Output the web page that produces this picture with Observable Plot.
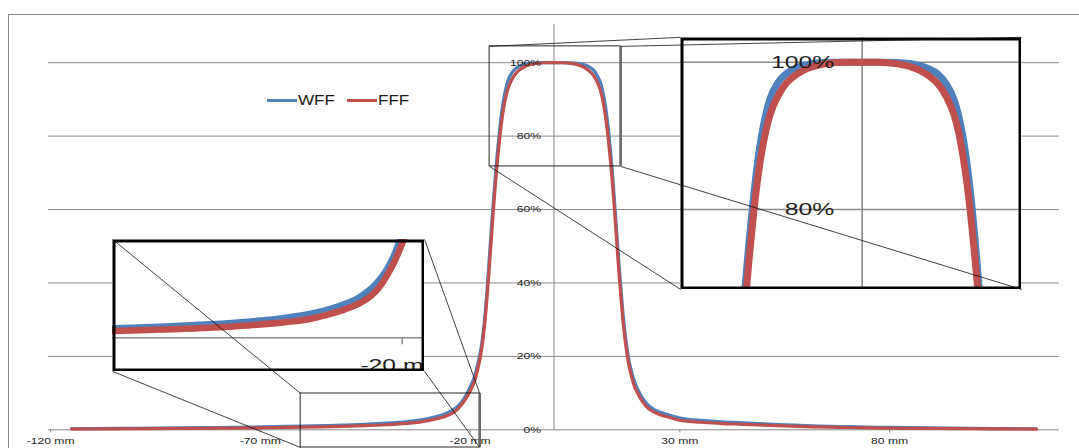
<!DOCTYPE html>
<html>
<head>
<meta charset="utf-8">
<script src="https://cdn.jsdelivr.net/npm/d3@7"></script>
<script src="https://cdn.jsdelivr.net/npm/@observablehq/plot@0.6"></script>
<style>
html,body{margin:0;padding:0;background:#fff;}
#chart{position:relative;width:1079px;height:448px;overflow:hidden;background:#fff;font-family:"Liberation Sans",Arial,sans-serif;}
#chart svg{position:absolute;}
.frame-border{position:absolute;left:8px;top:14px;width:1100px;height:460px;border-top:1px solid #8a8a8a;border-left:1px solid #8a8a8a;}
.lg{position:absolute;display:flex;align-items:center;height:16px;}
.lg .sw{display:inline-block;width:30px;height:0;border-top:3px solid;}
.lg .tx{display:inline-block;font-size:14px;line-height:16px;color:#1a1a1a;transform:scaleX(1.22);transform-origin:left center;margin-left:1px;}
</style>
</head>
<body>
<div id="chart"><div class="frame-border"></div></div>
<script>
// ---------- data ----------
const positionsMm = [-115,-110,-100,-90,-80,-70,-60,-55,-50,-45,-40,-35,-32,-30,-28,-26,-25,-24,-23,-22,-21,-20,-19,-18.5,-18,-17.5,-17,-16.5,-16,-15.5,-15,-14.5,-14,-13.5,-13,-12.5,-12,-11.5,-11,-10,-9,-8,-7,-6,-5,-4,-2,0,2,4,5,6,7,8,9,10,11,11.5,12,12.5,13,13.5,14,14.5,15,15.5,16,16.5,17,17.5,18,18.5,19,20,21,22,23,24,25,26,28,30,32,35,40,45,50,55,60,70,80,90,100,110,115];
const fffPct = [0.2,0.22,0.28,0.35,0.43,0.55,0.72,0.82,0.95,1.12,1.38,1.75,2.1,2.5,3.0,3.65,4.1,4.7,5.6,6.9,8.5,10.5,13.0,15.0,17.4,20.2,24.0,29.0,35.5,43,51,59,66.5,73,78.8,83.8,87.6,90.6,92.8,95.5,97.2,98.2,98.9,99.35,99.65,99.85,99.98,100,99.98,99.8,99.6,99.3,98.8,98.1,97.1,95.4,92.7,90.5,87.4,83.5,78.6,72.8,66.2,58.5,50.5,42.5,35.5,29,24,20,16.8,14.4,12.4,9.8,7.8,6.4,5.4,4.75,4.25,3.85,3.2,2.6,2.3,2.05,1.7,1.5,1.25,1.05,0.85,0.62,0.45,0.35,0.28,0.22,0.2];
const wffPct = [0.3,0.33,0.42,0.52,0.63,0.78,1.0,1.12,1.28,1.5,1.8,2.25,2.65,3.05,3.6,4.3,4.85,5.5,6.4,7.6,9.3,11.6,14.3,16.4,18.7,21.5,25.4,30.6,37.5,45.5,53.5,61.5,69,75.5,81.2,86.2,90,92.9,95,97.3,98.5,99.2,99.55,99.8,99.92,99.98,100,100,100,99.95,99.88,99.75,99.5,99.1,98.4,97.1,94.8,92.8,90,86.3,81.5,75.5,68.8,61,53,45,37.8,31,25.8,21.5,18.2,15.8,13.8,10.9,8.8,7.3,6.2,5.45,4.95,4.55,3.8,3.2,2.85,2.55,2.15,1.9,1.6,1.35,1.12,0.85,0.65,0.5,0.38,0.3,0.27];
const seriesNames = ["WFF", "FFF"];
const xTickValues = [-120, -70, -20, 30, 80];
const yTickValues = [0, 20, 40, 60, 80, 100];
const peakInsetTicks = [80, 100];
const tailInsetTicks = [-20];

// ---------- styles & layout (kept apart from the data) ----------
const colors = {WFF: "#4F81BD", FFF: "#C0504D"};
const gridColor = "#8c8c8c";
const textColor = "#1e1e1e";
const font = '"Liberation Sans", Arial, sans-serif';
const W = 1079, H = 448;
const mainScales = {
  width: W, height: H, marginLeft: 48, marginRight: 20, marginTop: 24, marginBottom: 18.7,
  x: {domain: [-120.5, 120.5], axis: null}, y: {domain: [0, 110.4], axis: null}
};
// zoom callouts, in chart units (mm, %)
const insetLayout = {
  peak: {source: {x1: -15.35, x2: 15.9, y1: 71.74, y2: 104.44}, box: {x1: 30.18, x2: 111.47, y1: 38.23, y2: 106.9},
         xDomain: [-21.66, 19.0], yDomain: [69.14, 103.35]},
  tail: {source: {x1: -60.4, x2: -17.7, y1: -4.82, y2: 9.89}, box: {x1: -105.2, x2: -30.85, y1: 15.89, y2: 51.85},
         xDomain: [-57.6, -17.1], yDomain: [-3.76, 10.96]}
};
const legendLeft = [267, 347], legendTop = 92;

const rows = positionsMm.map((x, i) => ({x, WFF: wffPct[i], FFF: fffPct[i]}));
const chart = document.getElementById("chart");

function stretch(svg, f) {
  svg.querySelectorAll("text").forEach(t => {
    const w = t.getComputedTextLength();
    if (w > 0) { t.setAttribute("textLength", (w * f).toFixed(2)); t.setAttribute("lengthAdjust", "spacingAndGlyphs"); }
  });
}
function seriesLines(width, extra = {}) {
  return seriesNames.map(name => Plot.line(rows, {x: "x", y: name, stroke: colors[name], strokeWidth: width, curve: "monotone-x", ...extra}));
}

// ---------- main chart ----------
const main = Plot.plot({
  ...mainScales,
  style: {background: "transparent", fontFamily: font, overflow: "visible"},
  marks: [
    Plot.ruleY(yTickValues.filter(d => d > 0), {stroke: gridColor, strokeWidth: 1}),
    Plot.ruleY([0], {stroke: "#868686", strokeWidth: 1}),
    Plot.ruleX([0], {stroke: "#868686", strokeWidth: 1}),
    Plot.axisX({ticks: xTickValues, tickFormat: d => `${d} mm`, tickSize: 3, tickPadding: 5, fontSize: 9, stroke: "#868686", fill: textColor, label: null}),
    ...seriesLines(3.2),
    Plot.text(yTickValues, {x: 0, y: d => d, text: d => `${d}%`, textAnchor: "end", dx: -13, fontSize: 9, fill: textColor})
  ]
});
main.style.left = "0px"; main.style.top = "0px";
chart.appendChild(main);
stretch(main, 1.35);

const sx = main.scale("x"), sy = main.scale("y");
const fx = sx.apply ? v => sx.apply(v) : d3.scaleLinear(sx.domain, sx.range);
const fy = sy.apply ? v => sy.apply(v) : d3.scaleLinear(sy.domain, sy.range);

// ---------- legend ----------
seriesNames.forEach((name, i) => {
  const d = document.createElement("div");
  d.className = "lg";
  d.style.left = legendLeft[i] + "px"; d.style.top = legendTop + "px";
  d.innerHTML = `<span class="sw" style="border-color:${colors[name]}"></span><span class="tx">${name}</span>`;
  chart.appendChild(d);
});

// ---------- insets ----------
function placeInset(svg, box) {
  svg.style.left = fx(box.x1) + "px";
  svg.style.top = fy(box.y2) + "px";
  chart.appendChild(svg);
}
function boxSize(box) {
  return {w: Math.round(fx(box.x2) - fx(box.x1)), h: Math.round(fy(box.y1) - fy(box.y2))};
}
{
  const L = insetLayout.peak, s = boxSize(L.box);
  const p = Plot.plot({
    width: s.w, height: s.h, margin: 0,
    x: {domain: L.xDomain, axis: null}, y: {domain: L.yDomain, axis: null},
    style: {background: "#fff", fontFamily: font, overflow: "hidden"},
    marks: [
      Plot.ruleY(peakInsetTicks, {stroke: gridColor, strokeWidth: 1.6}),
      Plot.ruleX([0], {stroke: gridColor, strokeWidth: 1.6}),
      ...seriesLines(7, {clip: true}),
      Plot.text(peakInsetTicks, {x: 0, y: d => d, text: d => `${d}%`, textAnchor: "end", dx: -28, fontSize: 17, fill: textColor}),
      Plot.frame({stroke: "#000", strokeWidth: 3, inset: 1.5})
    ]
  });
  placeInset(p, L.box);
  stretch(p, 1.45);
}
{
  const L = insetLayout.tail, s = boxSize(L.box);
  const p = Plot.plot({
    width: s.w, height: s.h, margin: 0,
    x: {domain: L.xDomain, axis: null}, y: {domain: L.yDomain, axis: null},
    style: {background: "#fff", fontFamily: font, overflow: "hidden"},
    marks: [
      Plot.ruleY([0], {stroke: gridColor, strokeWidth: 1.6}),
      Plot.ruleX(tailInsetTicks, {y1: 0, y2: -0.78, stroke: gridColor, strokeWidth: 1.6}),
      Plot.text(tailInsetTicks, {x: d => d, y: 0, text: d => `${d} mm`, dy: 28, fontSize: 17, fill: textColor}),
      ...seriesLines(6.5, {clip: true}),
      Plot.frame({stroke: "#000", strokeWidth: 3, inset: 1.5})
    ]
  });
  placeInset(p, L.box);
  stretch(p, 1.45);
}

// ---------- callout rectangles and connector lines (on top) ----------
const sources = Object.values(insetLayout).map(d => d.source);
const links = [];
Object.values(insetLayout).forEach(({source: a, box: b}) => {
  links.push({x1: a.x1, y1: a.y2, x2: b.x1, y2: b.y2});
  links.push({x1: a.x2, y1: a.y2, x2: b.x2, y2: b.y2});
  links.push({x1: a.x1, y1: a.y1, x2: b.x1, y2: b.y1});
  links.push({x1: a.x2, y1: a.y1, x2: b.x2, y2: b.y1});
});
const overlay = Plot.plot({
  ...mainScales,
  style: {background: "transparent", overflow: "visible", pointerEvents: "none"},
  marks: [
    Plot.rect(sources, {x1: "x1", x2: "x2", y1: "y1", y2: "y2", fill: "none", stroke: "#111", strokeWidth: 0.9}),
    Plot.ruleX(sources, {x: "x2", y1: "y1", y2: "y2", stroke: "#6a6a6a", strokeWidth: 2.5}),
    Plot.link(links, {x1: "x1", y1: "y1", x2: "x2", y2: "y2", stroke: "#111", strokeWidth: 0.8})
  ]
});
overlay.style.left = "0px"; overlay.style.top = "0px";
chart.appendChild(overlay);
</script>
</body>
</html>
